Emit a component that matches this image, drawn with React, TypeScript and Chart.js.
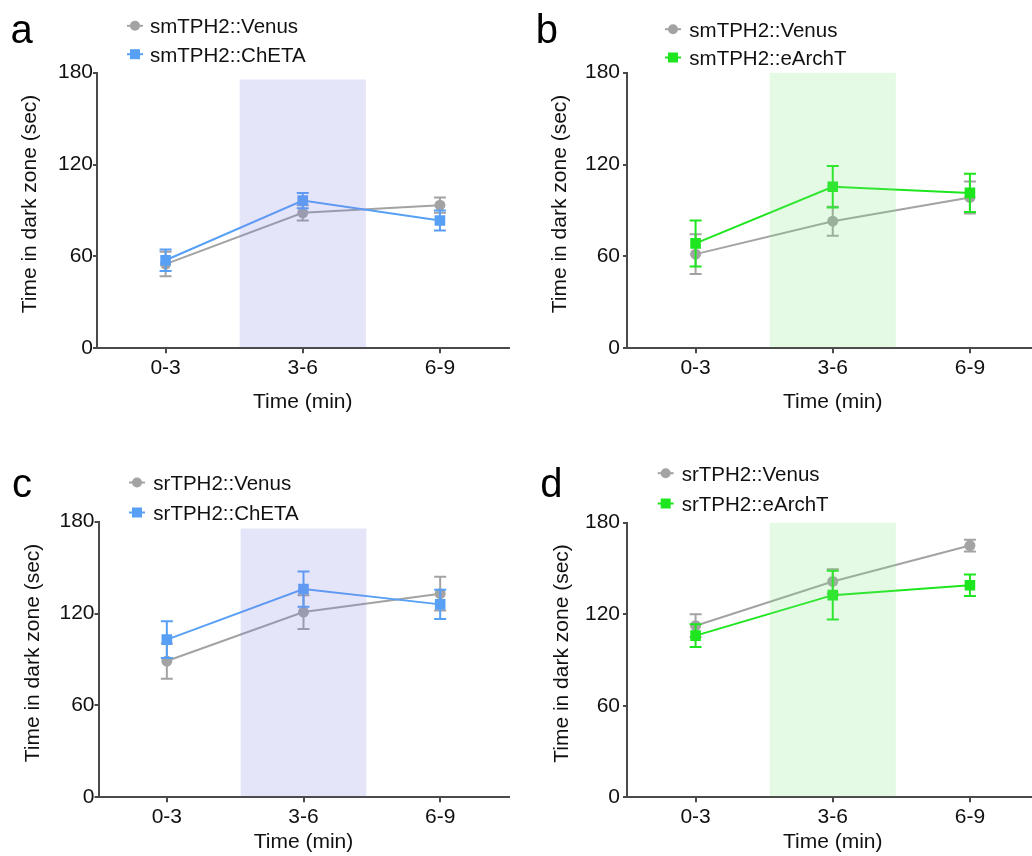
import React, { useEffect, useRef } from 'react';
import { Chart, registerables } from 'chart.js';

Chart.register(...registerables);

const FONT = '"Liberation Sans", Arial, Helvetica, sans-serif';

// ---------- data ----------
const categories = ['0-3', '3-6', '6-9'];
const yTickValues = [0, 60, 120, 180];
const xTitle = 'Time (min)';
const yTitle = 'Time in dark zone (sec)';

// panel a
const venusA = [55, 88.5, 93.5];
const venusAErr = [8, 5, 5];
const chetaA = [57.5, 96.5, 83.5];
const chetaAErr = [7, 5, 6.5];
const shadeA = [null, 175.5, null];

// panel b
const venusB = [61.5, 83, 98.5];
const venusBErr = [13, 9.5, 10.5];
const archB = [68.5, 105.5, 101.5];
const archBErr = [15, 13.5, 12.5];
const shadeB = [null, 181, null];

// panel c
const venusC = [89, 121, 133];
const venusCErr = [11.5, 11, 11];
const chetaC = [103, 136, 126];
const chetaCErr = [12, 11.5, 9.5];
const shadeC = [null, 175.5, null];

// panel d
const venusD = [112.5, 141.5, 165];
const venusDErr = [7.5, 8, 3.8];
const archD = [106, 132.5, 139];
const archDErr = [7.5, 16, 7];
const shadeD = [null, 181.5, null];

// ---------- styles ----------
const GRAY = '#A3A3A3';
const BLUE = '#58A0F5';
const GREEN = '#1EE61E';
const SHADE_BLUE = 'rgba(125,125,230,0.2)';
const SHADE_GREEN = 'rgba(125,230,125,0.2)';
const AXIS = '#4a4a4a';
const TEXT = '#111111';

type PanelCfg = {
  left: number; top: number; w: number; h: number;
  yW: number; padTop: number; padRight: number; xH: number;
  xTitlePad: number; yTitleX: number; yTickPad: number;
  letter: string; letterX: number; letterY: number;
  legMX: number; legTX: number; legBase: number[];
  shade: (number | null)[]; shadeColor: string;
  series: { label: string; data: number[]; err: number[]; color: string; style: 'circle' | 'rect'; order: number }[];
};

const panels: PanelCfg[] = [
  {
    left: 0, top: 0, w: 516, h: 428, yW: 97, padTop: 72.7, padRight: 4, xH: 79.7,
    xTitlePad: 12.7, yTitleX: 30.5, yTickPad: 0,
    letter: 'a', letterX: 10.5, letterY: 43,
    legMX: 135, legTX: 150, legBase: [33.3, 61.7],
    shade: shadeA, shadeColor: SHADE_BLUE,
    series: [
      { label: 'smTPH2::Venus', data: venusA, err: venusAErr, color: GRAY, style: 'circle', order: 2 },
      { label: 'smTPH2::ChETA', data: chetaA, err: chetaAErr, color: BLUE, style: 'rect', order: 1 },
    ],
  },
  {
    left: 516, top: 0, w: 530, h: 428, yW: 111, padTop: 72.7, padRight: 4, xH: 79.7,
    xTitlePad: 12.7, yTitleX: 44.5, yTickPad: 3,
    letter: 'b', letterX: 19.7, letterY: 43,
    legMX: 157, legTX: 173.3, legBase: [36.7, 65],
    shade: shadeB, shadeColor: SHADE_GREEN,
    series: [
      { label: 'smTPH2::Venus', data: venusB, err: venusBErr, color: GRAY, style: 'circle', order: 2 },
      { label: 'smTPH2::eArchT', data: archB, err: archBErr, color: GREEN, style: 'rect', order: 1 },
    ],
  },
  {
    left: 0, top: 428, w: 516, h: 428, yW: 98.5, padTop: 93.7, padRight: 4, xH: 58.7,
    xTitlePad: 0.7, yTitleX: 33.5, yTickPad: 0,
    letter: 'c', letterX: 12, letterY: 68.7,
    legMX: 137, legTX: 153.3, legBase: [62, 92],
    shade: shadeC, shadeColor: SHADE_BLUE,
    series: [
      { label: 'srTPH2::Venus', data: venusC, err: venusCErr, color: GRAY, style: 'circle', order: 2 },
      { label: 'srTPH2::ChETA', data: chetaC, err: chetaCErr, color: BLUE, style: 'rect', order: 1 },
    ],
  },
  {
    left: 516, top: 428, w: 530, h: 428, yW: 111, padTop: 94.7, padRight: 4, xH: 58.7,
    xTitlePad: 0.7, yTitleX: 46, yTickPad: 3,
    letter: 'd', letterX: 24.3, letterY: 68.7,
    legMX: 149.7, legTX: 165.7, legBase: [52.7, 83],
    shade: shadeD, shadeColor: SHADE_GREEN,
    series: [
      { label: 'srTPH2::Venus', data: venusD, err: venusDErr, color: GRAY, style: 'circle', order: 2 },
      { label: 'srTPH2::eArchT', data: archD, err: archDErr, color: GREEN, style: 'rect', order: 1 },
    ],
  },
];

// ---------- plugins ----------
const errorBarPlugin = {
  id: 'errorBars',
  beforeDatasetDraw(chart: any, args: any) {
    const ds = chart.data.datasets[args.index];
    if (!ds.errors) return;
    const ctx = chart.ctx;
    const y = chart.scales.y;
    ctx.save();
    ctx.strokeStyle = ds.borderColor;
    ctx.lineWidth = 2;
    args.meta.data.forEach((pt: any, i: number) => {
      const v = ds.data[i];
      const e = ds.errors[i];
      if (v == null || e == null) return;
      const x = pt.x;
      const yt = y.getPixelForValue(v + e);
      const yb = y.getPixelForValue(v - e);
      ctx.beginPath();
      ctx.moveTo(x, yt); ctx.lineTo(x, yb);
      ctx.moveTo(x - 6, yt); ctx.lineTo(x + 6, yt);
      ctx.moveTo(x - 6, yb); ctx.lineTo(x + 6, yb);
      ctx.stroke();
    });
    ctx.restore();
  },
};

const decoPlugin = {
  id: 'deco',
  afterDraw(chart: any, _args: any, opts: any) {
    const ctx = chart.ctx;
    const area = chart.chartArea;
    ctx.save();
    // panel letter
    ctx.fillStyle = '#000';
    ctx.font = `40px ${FONT}`;
    ctx.textAlign = 'left';
    ctx.textBaseline = 'alphabetic';
    ctx.fillText(opts.letter, opts.letterX, opts.letterY);
    // y axis title
    ctx.save();
    ctx.translate(opts.yTitleX, (area.top + area.bottom) / 2 - 6.5);
    ctx.rotate(-Math.PI / 2);
    ctx.font = `21px ${FONT}`;
    ctx.fillStyle = TEXT;
    ctx.textAlign = 'center';
    ctx.textBaseline = 'middle';
    ctx.fillText(opts.yTitle, 0, 0);
    ctx.restore();
    // legend
    ctx.textAlign = 'left';
    ctx.textBaseline = 'alphabetic';
    const lines = chart.data.datasets.filter((d: any) => d.type === 'line');
    lines.forEach((d: any, i: number) => {
      const base = opts.legBase[i];
      const my = base - 7.5;
      ctx.strokeStyle = d.borderColor;
      ctx.lineWidth = 2;
      ctx.beginPath();
      ctx.moveTo(opts.legMX - 8, my);
      ctx.lineTo(opts.legMX + 8, my);
      ctx.stroke();
      ctx.fillStyle = d.borderColor;
      if (d.pointStyle === 'rect') {
        ctx.fillRect(opts.legMX - 5, my - 5, 10, 10);
      } else {
        ctx.beginPath();
        ctx.arc(opts.legMX, my, 5, 0, Math.PI * 2);
        ctx.fill();
      }
      ctx.fillStyle = TEXT;
      ctx.font = `20.5px ${FONT}`;
      ctx.fillText(d.label, opts.legTX, base);
    });
    ctx.restore();
  },
};

function buildConfig(p: PanelCfg): any {
  const lineSets = p.series.map((s) => ({
    type: 'line',
    label: s.label,
    data: s.data,
    errors: s.err,
    borderColor: s.color,
    backgroundColor: s.color,
    pointBackgroundColor: s.color,
    pointBorderColor: s.color,
    borderWidth: 2,
    pointStyle: s.style,
    pointRadius: s.style === 'rect' ? 7.5 : 5.5,
    pointBorderWidth: 0,
    tension: 0,
    order: s.order,
  }));
  return {
    type: 'line',
    data: {
      labels: categories,
      datasets: [
        {
          type: 'bar',
          label: 'stimulation',
          data: p.shade,
          backgroundColor: p.shadeColor,
          borderWidth: 0,
          categoryPercentage: 1,
          barPercentage: 0.92,
          order: 0,
        },
        ...lineSets,
      ],
    },
    options: {
      responsive: false,
      animation: false,
      events: [],
      layout: { padding: { top: p.padTop, right: p.padRight, left: 0, bottom: 0 } },
      plugins: {
        legend: { display: false },
        tooltip: { enabled: false },
        deco: {
          letter: p.letter, letterX: p.letterX, letterY: p.letterY,
          legMX: p.legMX, legTX: p.legTX, legBase: p.legBase,
          yTitle, yTitleX: p.yTitleX,
        },
      },
      scales: {
        x: {
          type: 'category',
          offset: true,
          afterFit: (s: any) => { s.height = p.xH; },
          grid: { display: true, drawOnChartArea: false, drawTicks: true, tickLength: 5, offset: false, color: AXIS, lineWidth: 2 },
          border: { display: true, color: AXIS, width: 2 },
          ticks: { autoSkip: false, maxRotation: 0, padding: 2, color: TEXT, font: { family: FONT, size: 21 } },
          title: { display: true, text: xTitle, color: TEXT, font: { family: FONT, size: 21 }, padding: { top: 0, bottom: p.xTitlePad } },
        },
        y: {
          type: 'linear',
          min: 0,
          max: 180,
          afterFit: (s: any) => { s.width = p.yW; },
          afterBuildTicks: (s: any) => { s.ticks = yTickValues.map((v) => ({ value: v })); },
          grid: { display: true, drawOnChartArea: false, drawTicks: true, tickLength: 4, color: AXIS, lineWidth: 2 },
          border: { display: true, color: AXIS, width: 2 },
          ticks: { padding: p.yTickPad, color: TEXT, font: { family: FONT, size: 21 } },
          title: { display: false },
        },
      },
    },
    plugins: [errorBarPlugin, decoPlugin],
  };
}

function Panel({ cfg }: { cfg: PanelCfg }) {
  const ref = useRef<HTMLCanvasElement>(null);
  useEffect(() => {
    const chart = new Chart(ref.current as HTMLCanvasElement, buildConfig(cfg));
    return () => chart.destroy();
  }, [cfg]);
  return (
    <canvas
      ref={ref}
      width={cfg.w}
      height={cfg.h}
      style={{ position: 'absolute', left: cfg.left, top: cfg.top, width: cfg.w, height: cfg.h }}
    />
  );
}

export default function App() {
  return (
    <div
      style={{
        position: 'absolute', left: 0, top: 0, width: 1032, height: 856,
        overflow: 'hidden', background: '#fff',
      }}
    >
      {panels.map((p, i) => (
        <Panel key={i} cfg={p} />
      ))}
    </div>
  );
}
